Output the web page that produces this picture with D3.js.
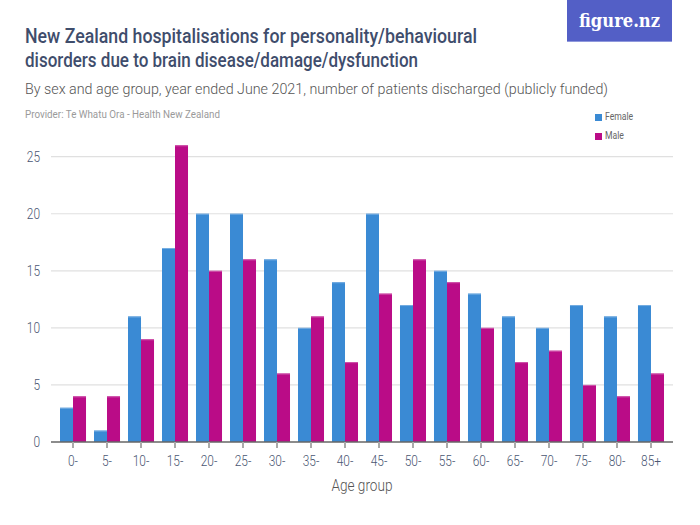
<!DOCTYPE html>
<html><head><meta charset="utf-8">
<script src="https://cdn.jsdelivr.net/npm/d3@7"></script>
<style>
html,body{margin:0;padding:0;background:#fff;}
svg{display:block;}
</style></head>
<body>
<svg id="chart" width="700" height="525"></svg>
<script>
const categories = ["0-","5-","10-","15-","20-","25-","30-","35-","40-","45-","50-","55-","60-","65-","70-","75-","80-","85+"];
const female = [3,1,11,17,20,20,16,10,14,20,12,15,13,11,10,12,11,12];
const male = [4,4,9,26,15,16,6,11,7,13,16,14,10,7,8,5,4,6];
const seriesNames = ["Female","Male"];
const seriesColors = ["#3a8ad4","#ba0c87"];
const yTicks = [0,5,10,15,20,25];

const FONT = "Roboto, 'Noto Sans', sans-serif";
const svg = d3.select("#chart");

function condense(sel, factor){
  sel.each(function(){
    const w = this.getComputedTextLength();
    d3.select(this).attr("textLength", w*factor).attr("lengthAdjust","spacingAndGlyphs");
  });
}
function fitTo(sel, width){
  sel.attr("textLength", width).attr("lengthAdjust","spacingAndGlyphs");
}

// logo
svg.append("rect").attr("x",567).attr("y",0).attr("width",105).attr("height",42).attr("fill","#535fc6");
svg.append("rect").attr("x",567).attr("y",41).attr("width",105).attr("height",1).attr("fill","#8f98dc");
const logo = svg.append("text").attr("x",579).attr("y",27)
  .attr("font-family","'DejaVu Serif','Liberation Serif',serif").attr("font-weight","bold")
  .attr("font-size",19).attr("fill","#fff").text("figure.nz");
fitTo(logo, 81);

// titles
const titleLines = ["New Zealand hospitalisations for personality/behavioural","disorders due to brain disease/damage/dysfunction"];
const titleW = [452, 393];
titleLines.forEach((t,i)=>{
  const tt = svg.append("text").attr("x",25).attr("y",43+i*24).attr("font-family",FONT)
    .attr("font-size",19.5).attr("font-weight",500).attr("fill","#3f4d6c").text(t);
  fitTo(tt, titleW[i]);
});
const sub = svg.append("text").attr("x",25).attr("y",94).attr("font-family",FONT)
  .attr("font-size",15.5).attr("font-weight",300).attr("fill","#555")
  .text("By sex and age group, year ended June 2021, number of patients discharged (publicly funded)");
fitTo(sub, 583);
const prov = svg.append("text").attr("x",25).attr("y",118).attr("font-family",FONT)
  .attr("font-size",10.5).attr("fill","#9a9a9a").text("Provider: Te Whatu Ora - Health New Zealand");
fitTo(prov, 195);

// legend
seriesNames.forEach((n,i)=>{
  const g = svg.append("g").attr("transform",`translate(595,${113+i*19})`);
  g.append("rect").attr("width",7).attr("height",7).attr("y",1).attr("fill",seriesColors[i]);
  const t = g.append("text").attr("x",10).attr("y",7).attr("font-family",FONT).attr("font-size",10.5).attr("fill","#666").text(n);
  condense(t, 0.82);
});

// scales
const x0 = d3.scaleBand().domain(categories).range([51,673]).paddingInner(0.235).paddingOuter(0.265);
const x1 = d3.scaleBand().domain(seriesNames).range([0,x0.bandwidth()]);
const y = d3.scaleLinear().domain([0,25]).range([442,156.7]);

// gridlines
svg.append("g").selectAll("line").data(yTicks.filter(d=>d>0)).join("line")
  .attr("x1",51).attr("x2",673).attr("y1",d=>y(d)).attr("y2",d=>y(d))
  .attr("stroke","#e0e0e0").attr("stroke-width",1.2);

// y labels
const yAxis = svg.append("g").attr("transform","translate(40,0)")
  .call(d3.axisLeft(y).tickValues(yTicks).tickSize(0).tickPadding(0));
yAxis.select(".domain").remove();
yAxis.selectAll("text").attr("font-family",FONT).attr("font-size",14).attr("font-weight",300).attr("fill","#4a5672")
  .attr("dy","0.35em").call(condense, 0.85);

// bars
const data = categories.map((c,i)=>({cat:c, vals:[female[i],male[i]]}));
const groups = svg.append("g").selectAll("g").data(data).join("g")
  .attr("transform",d=>`translate(${x0(d.cat)},0)`);
const bars = groups.selectAll("g").data(d=>d.vals.map((v,j)=>({v,s:seriesNames[j],c:seriesColors[j]}))).join("g");
bars.append("rect")
  .attr("x",d=>x1(d.s)).attr("width",x1.bandwidth())
  .attr("y",d=>y(d.v)).attr("height",d=>y(0)-y(d.v)).attr("fill",d=>d.c);
bars.append("rect")
  .attr("x",d=>x1(d.s)).attr("width",x1.bandwidth())
  .attr("y",d=>y(d.v)).attr("height",1).attr("fill",d=>d3.interpolateRgb(d.c,"#fff")(0.3));

// x axis
const xAxis = svg.append("g").attr("transform","translate(0,442)")
  .call(d3.axisBottom(x0).tickSize(6).tickSizeOuter(0).tickPadding(8));
xAxis.select(".domain").attr("stroke","#666").attr("stroke-width",1.5).attr("d","M51,0H673");
xAxis.selectAll(".tick line").attr("stroke","#aaa").attr("stroke-width",2);
xAxis.selectAll("text").attr("font-family",FONT).attr("font-size",14).attr("font-weight",300).attr("fill","#4a5672")
  .call(condense, 0.85);

const ag = svg.append("text").attr("x",362).attr("y",491).attr("text-anchor","middle").attr("font-family",FONT)
  .attr("font-size",16).attr("font-weight",300).attr("fill","#555").text("Age group");
condense(ag, 0.85);
</script>
</body></html>
